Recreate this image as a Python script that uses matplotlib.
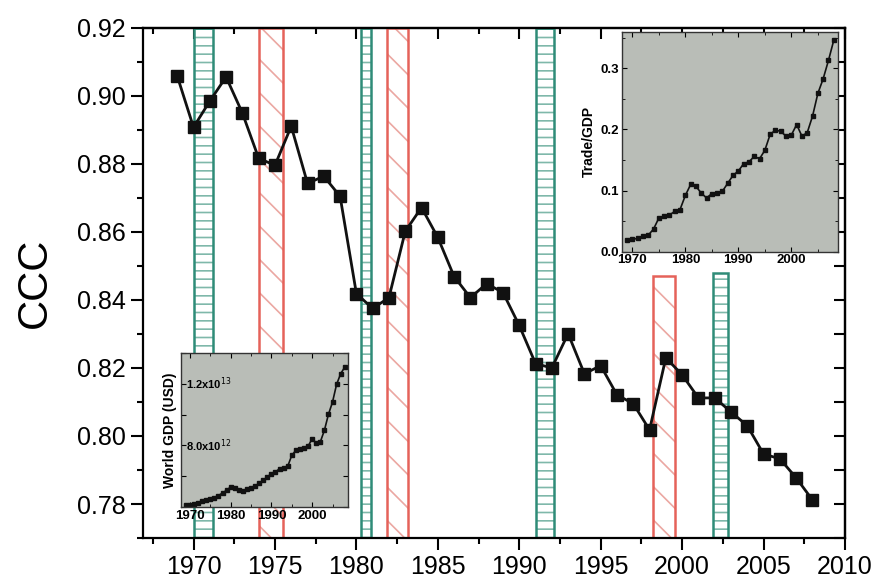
import numpy as np
import matplotlib
matplotlib.use("Agg")
import matplotlib.pyplot as plt
from matplotlib.ticker import MultipleLocator

plt.rcParams['font.family'] = ['Liberation Sans', 'DejaVu Sans']
plt.rcParams['hatch.linewidth'] = 1.2

# main series: CCC per year
years = np.arange(1969, 2009)
ccc = [0.9059, 0.8908, 0.8985, 0.9056, 0.8950, 0.8817, 0.8796, 0.8911,
       0.8743, 0.8764, 0.8705, 0.8419, 0.8375, 0.8407, 0.8602, 0.8672,
       0.8584, 0.8469, 0.8407, 0.8448, 0.8422, 0.8325, 0.8213, 0.8200,
       0.8301, 0.8183, 0.8207, 0.8121, 0.8095, 0.8018, 0.8230, 0.8180,
       0.8112, 0.8112, 0.8071, 0.8030, 0.7947, 0.7933, 0.7877, 0.7812]

# world GDP (USD) inset
gdp = [4.11, 4.13, 4.17, 4.28, 4.39, 4.45, 4.52, 4.61, 4.74, 4.91,
       5.08, 5.30, 5.25, 5.12, 5.04, 5.15, 5.23, 5.34, 5.56, 5.73,
       5.95, 6.16, 6.27, 6.49, 6.55, 6.64, 7.35, 7.68, 7.78, 7.85,
       7.94, 8.43, 8.15, 8.22, 8.97, 10.01, 10.81, 11.96, 12.65, 13.08]
gdp = [g * 1e12 for g in gdp]

# trade / GDP inset
trade = [0.019, 0.020, 0.022, 0.025, 0.027, 0.037, 0.055, 0.058, 0.060, 0.066,
         0.069, 0.092, 0.110, 0.107, 0.096, 0.088, 0.095, 0.096, 0.099, 0.112,
         0.125, 0.132, 0.144, 0.147, 0.156, 0.152, 0.166, 0.192, 0.199, 0.197,
         0.189, 0.191, 0.208, 0.189, 0.195, 0.222, 0.259, 0.283, 0.313, 0.346]
trade_years = np.arange(1969, 2009)

# shaded periods
green_start = [1970.0, 1980.3, 1991.05, 2001.9]
green_end = [1971.2, 1980.9, 1992.15, 2002.8]
green_top = [0.92, 0.92, 0.92, 0.848]
red_start = [1974.05, 1981.85, 1998.2]
red_end = [1975.5, 1983.2, 1999.55]
red_top = [0.92, 0.92, 0.847]

fig = plt.figure(figsize=(8.85, 5.82), dpi=100)
ax = fig.add_axes([0.1616, 0.0756, 0.7932, 0.8763])
ax.set_xlim(1966.9, 2010)
ax.set_ylim(0.77, 0.92)

base = 0.77
gw = np.subtract(green_end, green_start)
gh = np.subtract(green_top, base)
rw = np.subtract(red_end, red_start)
rh = np.subtract(red_top, base)
ax.bar(green_start, gh, width=gw, bottom=base, align='edge', color='white',
       edgecolor='#7fb8aa', hatch='--', linewidth=0, zorder=1)
ax.bar(green_start, gh, width=gw, bottom=base, align='edge', fill=False,
       edgecolor='#2f8c78', linewidth=1.8, zorder=1.5)
ax.bar(red_start, rh, width=rw, bottom=base, align='edge', color='white',
       edgecolor='#eba7a2', hatch='\\', linewidth=0, zorder=1)
ax.bar(red_start, rh, width=rw, bottom=base, align='edge', fill=False,
       edgecolor='#e5625a', linewidth=1.8, zorder=1.5)

ax.plot(years, ccc, color='#111111', lw=2, marker='s', ms=8.5,
        mec='#111111', mfc='#111111', zorder=3)

ax.set_ylabel('CCC', fontsize=30, labelpad=16)
ax.xaxis.set_major_locator(MultipleLocator(5))
ax.xaxis.set_minor_locator(MultipleLocator(2.5))
ax.yaxis.set_major_locator(MultipleLocator(0.02))
ax.yaxis.set_minor_locator(MultipleLocator(0.01))
ax.yaxis.set_major_formatter(plt.FormatStrFormatter('%.2f'))
ax.tick_params(axis='both', which='major', direction='out', length=8.5,
               width=1.5, labelsize=18, pad=4)
ax.tick_params(axis='both', which='minor', direction='out', length=4.5,
               width=1.5)
for s in ax.spines.values():
    s.set_linewidth(1.6)

# inward ticks on top and right
top = ax.secondary_xaxis('top')
top.xaxis.set_major_locator(MultipleLocator(5))
top.xaxis.set_minor_locator(MultipleLocator(2.5))
top.tick_params(which='major', direction='in', length=8, width=1.5, labeltop=False)
top.tick_params(which='minor', direction='in', length=4.5, width=1.5)
top.spines['top'].set_linewidth(1.6)
right = ax.secondary_yaxis('right')
right.yaxis.set_major_locator(MultipleLocator(0.02))
right.yaxis.set_minor_locator(MultipleLocator(0.01))
right.tick_params(which='major', direction='in', length=8, width=1.5, labelright=False)
right.tick_params(which='minor', direction='in', length=8, width=1.5)
right.spines['right'].set_linewidth(1.6)

panel = '#b9bdb7'

# inset: World GDP
ax1 = fig.add_axes([0.2045, 0.1289, 0.1887, 0.2646])
ax1.set_facecolor(panel)
ax1.plot(years, gdp, color='#111111', lw=1.2, marker='s', ms=2.6)
ax1.set_xlim(1967.8, 2008.8)
ax1.set_ylim(4e12, 14e12)
ax1.xaxis.set_major_locator(MultipleLocator(10))
ax1.xaxis.set_minor_locator(MultipleLocator(5))
ax1.yaxis.set_major_locator(MultipleLocator(2e12))
ax1.tick_params(axis='x', which='both', direction='in', top=True, labelsize=9.5, pad=2)
ax1.tick_params(axis='y', which='both', direction='in', right=True, labelleft=False)
for lbl in ax1.get_xticklabels():
    lbl.set_fontweight('bold')
ax1.set_ylabel('World GDP (USD)', fontsize=10, fontweight='bold', labelpad=3)
ytr = ax1.get_yaxis_transform()
ax1.text(0.03, 12e12, r'1.2x10$^{13}$', transform=ytr, fontsize=8,
         fontweight='bold', va='center', ha='left')
ax1.text(0.03, 8e12, r'8.0x10$^{12}$', transform=ytr, fontsize=8,
         fontweight='bold', va='center', ha='left')
for s in ax1.spines.values():
    s.set_color('#333333')
    s.set_linewidth(1)

# inset: Trade / GDP
ax2 = fig.add_axes([0.7025, 0.5675, 0.2444, 0.378])
ax2.set_facecolor(panel)
ax2.plot(trade_years, trade, color='#111111', lw=1.2, marker='s', ms=2.6)
ax2.set_xlim(1968, 2008.8)
ax2.set_ylim(0, 0.36)
ax2.xaxis.set_major_locator(MultipleLocator(10))
ax2.xaxis.set_minor_locator(MultipleLocator(5))
ax2.yaxis.set_major_locator(MultipleLocator(0.1))
ax2.yaxis.set_minor_locator(MultipleLocator(0.05))
ax2.yaxis.set_major_formatter(plt.FormatStrFormatter('%.1f'))
ax2.tick_params(which='both', direction='in', top=True, right=True,
                labelsize=9.5, pad=2)
for lbl in ax2.get_xticklabels() + ax2.get_yticklabels():
    lbl.set_fontweight('bold')
ax2.set_ylabel('Trade/GDP', fontsize=10, fontweight='bold', labelpad=3)
for s in ax2.spines.values():
    s.set_color('#333333')
    s.set_linewidth(1)

fig.savefig('out.png', dpi=100)
